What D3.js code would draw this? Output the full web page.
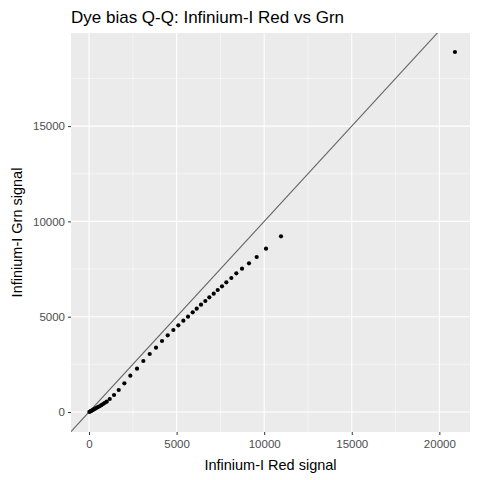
<!DOCTYPE html>
<html><head><meta charset="utf-8">
<script src="https://cdn.jsdelivr.net/npm/d3@7"></script>
<style>body{margin:0;background:#fff}text{font-family:"Liberation Sans",Arial,sans-serif}</style>
</head><body>
<script>
// sample quantiles
const redQ = [20, 60, 120, 180, 250, 320, 400, 500, 600, 700, 800, 900, 1010, 1181, 1427, 1695, 2016, 2358, 2740, 3100, 3464, 3824, 4167, 4492, 4814, 5098, 5384, 5651, 5919, 6147, 6393, 6640, 6868, 7118, 7346, 7591, 7838, 8124, 8409, 8733, 9132, 9572, 10103, 10959, 20890];
const grnQ = [5, 25, 55, 85, 120, 160, 200, 250, 300, 360, 420, 480, 540, 682, 892, 1154, 1506, 1905, 2273, 2676, 3043, 3375, 3725, 4024, 4302, 4549, 4790, 5000, 5228, 5420, 5630, 5824, 6017, 6207, 6400, 6593, 6805, 7030, 7277, 7519, 7800, 8132, 8568, 9218, 18888];
const ticks = [0, 5000, 10000, 15000, 20000];
const yTicks = [0, 5000, 10000, 15000];

const W = 480, H = 480;
const m = {l: 71, r: 10, t: 33, b: 48};
const svg = d3.select("body").append("svg").attr("width", W).attr("height", H);

const x = d3.scaleLinear().domain([-1030, 21750]).range([m.l, W - m.r]);
const y = d3.scaleLinear().domain([-1050, 19885]).range([H - m.b, m.t]);

svg.append("rect").attr("x", m.l).attr("y", m.t)
    .attr("width", W - m.r - m.l).attr("height", H - m.b - m.t).attr("fill", "#ebebeb");

const minorX = [2500, 7500, 12500, 17500], minorY = [2500, 7500, 12500, 17500];
const g = svg.append("g");
g.selectAll(".mx").data(minorX).enter().append("line")
    .attr("x1", d => x(d)).attr("x2", d => x(d)).attr("y1", m.t).attr("y2", H - m.b)
    .attr("stroke", "#fff").attr("stroke-width", 0.5);
g.selectAll(".my").data(minorY).enter().append("line")
    .attr("y1", d => y(d)).attr("y2", d => y(d)).attr("x1", m.l).attr("x2", W - m.r)
    .attr("stroke", "#fff").attr("stroke-width", 0.5);
g.selectAll(".gx").data(ticks).enter().append("line")
    .attr("x1", d => x(d)).attr("x2", d => x(d)).attr("y1", m.t).attr("y2", H - m.b)
    .attr("stroke", "#fff").attr("stroke-width", 1.1);
g.selectAll(".gy").data(yTicks).enter().append("line")
    .attr("y1", d => y(d)).attr("y2", d => y(d)).attr("x1", m.l).attr("x2", W - m.r)
    .attr("stroke", "#fff").attr("stroke-width", 1.1);

// y = x reference line, clipped to panel
svg.append("clipPath").attr("id", "clip").append("rect")
    .attr("x", m.l).attr("y", m.t).attr("width", W - m.r - m.l).attr("height", H - m.b - m.t);
svg.append("line").attr("clip-path", "url(#clip)")
    .attr("x1", x(-2000)).attr("y1", y(-2000)).attr("x2", x(25000)).attr("y2", y(25000))
    .attr("stroke", "#666").attr("stroke-width", 1.1);

svg.selectAll(".pt").data(redQ).enter().append("circle")
    .attr("cx", d => x(d)).attr("cy", (d, i) => y(grnQ[i])).attr("r", 2.1).attr("fill", "#000");

const xa = svg.append("g").attr("transform", `translate(0,${H - m.b})`)
    .call(d3.axisBottom(x).tickValues(ticks).tickSize(3).tickSizeOuter(0).tickPadding(3).tickFormat(d3.format("d")));
const ya = svg.append("g").attr("transform", `translate(${m.l},0)`)
    .call(d3.axisLeft(y).tickValues(yTicks).tickSize(3).tickSizeOuter(0).tickPadding(3).tickFormat(d3.format("d")));
[xa, ya].forEach(a => {
    a.select(".domain").remove();
    a.selectAll("line").attr("stroke", "#333");
    a.selectAll("text").attr("fill", "#4d4d4d").style("font-size", "11.5px");
});
xa.selectAll("text").attr("dy", "0.9em");

svg.append("text").attr("x", (m.l + W - m.r) / 2).attr("y", 470).attr("text-anchor", "middle")
    .style("font-size", "14.5px").text("Infinium-I Red signal");
svg.append("text").attr("transform", `translate(22,${(m.t + H - m.b) / 2}) rotate(-90)`)
    .attr("text-anchor", "middle").style("font-size", "14.5px").text("Infinium-I Grn signal");
svg.append("text").attr("x", m.l).attr("y", 23).style("font-size", "17px")
    .text("Dye bias Q-Q: Infinium-I Red vs Grn");
</script>
</body></html>
